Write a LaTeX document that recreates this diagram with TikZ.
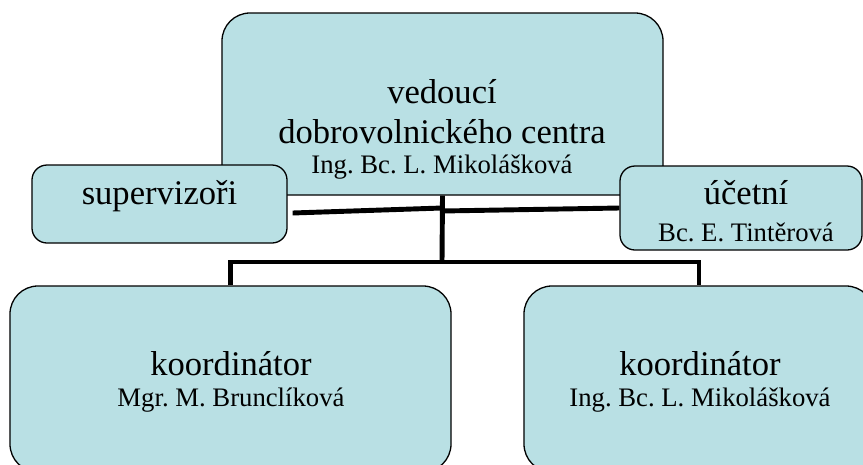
\documentclass[tikz,border=0pt]{standalone}
\usepackage{fontspec}
\setmainfont{Liberation Serif}
\newfontfamily\orgfont{Liberation Serif}
\usetikzlibrary{positioning}
\frenchspacing

\definecolor{boxfill}{RGB}{185,224,228}

\begin{document}
\begin{tikzpicture}[x=0.03cm, y=-0.03cm,
    box/.style={draw, line width=1.1pt, fill=boxfill, rounded corners=0.84cm, inner sep=0pt},
    smallbox/.style={box, rounded corners=0.45cm},
    conn/.style={line width=4.2pt},
    big/.style={font=\orgfont\fontsize{29.5}{34}\selectfont, anchor=base, inner sep=0pt},
    small/.style={font=\orgfont\fontsize{22.8}{26}\selectfont, anchor=base, inner sep=0pt}]
  \useasboundingbox (0,0) rectangle (863,464);
  % boxes
  \node[box, minimum width=13.23cm, minimum height=5.46cm] (head) at (442.5,104) {};
  \node[box, minimum width=13.23cm, minimum height=5.58cm] (coordl) at (230.5,379) {};
  \node[box, minimum width=10.5cm, minimum height=5.58cm] (coordr) at (699,379) {};
  \node[smallbox, minimum width=7.65cm, minimum height=2.34cm] (sup) at (159.5,204) {};
  \node[smallbox, minimum width=7.26cm, minimum height=2.52cm] (acc) at (741,208) {};
  % connectors
  \coordinate (hub) at (442,262);
  \coordinate (jl) at (442,208);
  \coordinate (jr) at (442,211);
  \draw[conn] (head.south) -- (hub);
  \draw[conn] (coordl.north) |- (hub) -| (coordr.north);
  \draw[conn] ([shift={(5,9)}]sup.east) -- (jl);
  \draw[conn] (jr) -- (acc.west);
  % texts
  \node[big] (headtitle) at (442,103) {vedoucí};
  \node[big] (headunit) at (442,143) {dobrovolnického centra};
  \node[small] (headname) at (442,173) {Ing. Bc. L. Mikolášková};
  \node[big] (suptitle) at (159.5,204) {supervizoři};
  \node[big] (acctitle) at (746,204) {účetní};
  \node[small] (accname) at (746,241) {Bc. E. Tintěrová};
  \node[big] (coordltitle) at (231,375) {koordinátor};
  \node[small] (coordlname) at (231,406) {Mgr. M. Brunclíková};
  \node[big] (coordrtitle) at (700,375) {koordinátor};
  \node[small] (coordrname) at (700,406) {Ing. Bc. L. Mikolášková};
\end{tikzpicture}
\end{document}
